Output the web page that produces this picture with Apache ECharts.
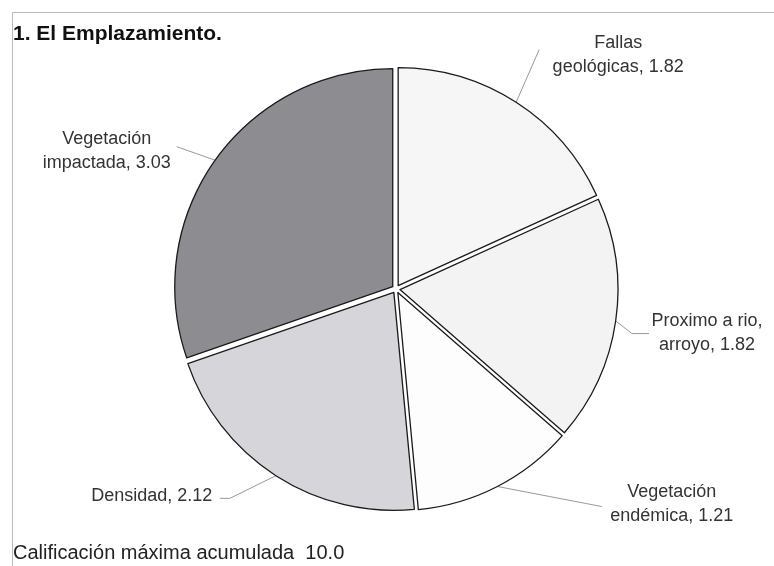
<!DOCTYPE html>
<html>
<head>
<meta charset="utf-8">
<script src="https://cdn.jsdelivr.net/npm/echarts@6/dist/echarts.min.js"></script>
<style>html,body{margin:0;padding:0;background:#fff}#c{width:774px;height:566px}</style>
</head>
<body>
<div id="c"></div>
<script>
const categories = ['Fallas\ngeológicas', 'Proximo a rio,\narroyo', 'Vegetación\nendémica', 'Densidad', 'Vegetación\nimpactada'];
const values = [1.82, 1.82, 1.21, 2.12, 3.03];
const titleText = '1. El Emplazamiento.';
const footerText = 'Calificación máxima acumulada  10.0';

const colors = ['#f6f6f6', '#f3f3f3', '#fdfdfd', '#d5d5da', '#8d8d91'];
// label layout (positions only)
const labelCentre = [[616, 58], [703, 332], [670, 500], [154, 493], [110, 153]];
const leaderBend = [null, [628, 333], null, [232, 495], null];
const leaderEnd = [[537, 53], [645, 333], [600, 503], [222, 495], [180, 149]];

const FONT = '"Liberation Sans", Arial, sans-serif';
const chart = echarts.init(document.getElementById('c'));
chart.setOption({
  animation: false,
  backgroundColor: '#fff',
  graphic: [
    {type: 'line', shape: {x1: 12, y1: 12.5, x2: 774, y2: 12.5}, style: {stroke: '#bbb', lineWidth: 1}},
    {type: 'line', shape: {x1: 12.5, y1: 12, x2: 12.5, y2: 566}, style: {stroke: '#bbb', lineWidth: 1}},
    {type: 'text', x: 13, y: 34, style: {text: titleText, font: 'bold 21px ' + FONT, fill: '#111', verticalAlign: 'middle'}},
    {type: 'text', x: 13, y: 553, style: {text: footerText, font: '20px ' + FONT, fill: '#222', verticalAlign: 'middle'}}
  ],
  series: [{
    type: 'pie',
    center: [396, 289],
    radius: 218,
    startAngle: 90,
    clockwise: true,
    selectedMode: 'multiple',
    selectedOffset: 4,
    avoidLabelOverlap: false,
    itemStyle: {borderColor: '#1a1a1a', borderWidth: 1.3},
    select: {itemStyle: {borderColor: '#1a1a1a', borderWidth: 1.3}},
    emphasis: {disabled: true},
    label: {
      show: true,
      formatter: '{b}, {c}',
      fontSize: 18,
      fontFamily: FONT,
      color: '#333',
      lineHeight: 24
    },
    labelLine: {show: true, length: 20, length2: 10, lineStyle: {color: '#999', width: 1}},
    labelLayout: function (p) {
      const i = p.dataIndex;
      const c = labelCentre[i];
      const r = p.labelRect;
      const ax = p.align === 'left' ? r.x : (p.align === 'right' ? r.x + r.width : r.x + r.width / 2);
      const ay = r.y + r.height / 2;
      const p0 = p.labelLinePoints ? p.labelLinePoints[0] : leaderEnd[i];
      const e = leaderEnd[i];
      const b = leaderBend[i] || [(p0[0] + e[0]) / 2, (p0[1] + e[1]) / 2];
      return {
        dx: c[0] - ax,
        dy: c[1] - ay,
        align: 'center',
        labelLinePoints: [p0, b, e]
      };
    },
    data: categories.map((c, i) => ({
      name: c, value: values[i], selected: true,
      itemStyle: {color: colors[i]},
      select: {itemStyle: {color: colors[i]}}
    }))
  }]
});
</script>
</body>
</html>
